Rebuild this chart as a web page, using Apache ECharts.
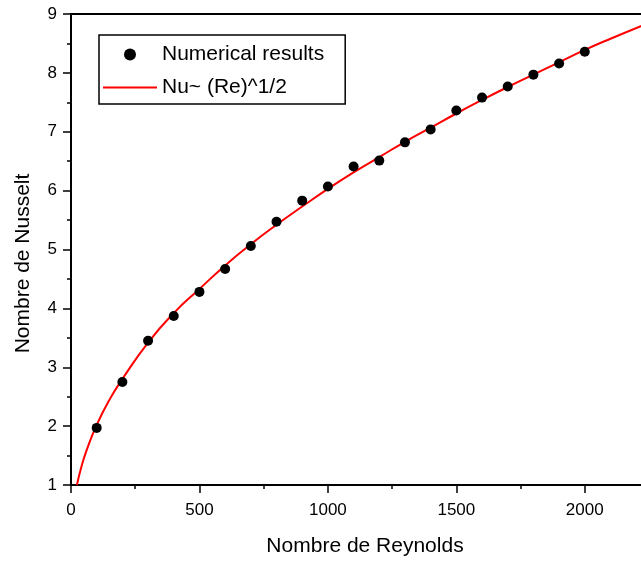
<!DOCTYPE html>
<html><head><meta charset="utf-8">
<script src="https://cdn.jsdelivr.net/npm/echarts@6/dist/echarts.min.js"></script>
<style>html,body{margin:0;padding:0;background:#fff}#c{width:641px;height:563px}</style>
</head><body><div id="c"></div>
<script>
// Numerical results (Reynolds number, Nusselt number)
const reNumerical = [100,200,300,400,500,600,700,800,900,1000,1100,1200,1300,1400,1500,1600,1700,1800,1900,2000];
const nuNumerical = [1.97,2.75,3.45,3.87,4.28,4.67,5.06,5.47,5.83,6.07,6.41,6.51,6.82,7.04,7.36,7.58,7.77,7.97,8.16,8.36];
// Fitted curve Nu ~ (Re)^1/2
const reFit = [23,40,60,100,150,200,300,400,500,600,700,800,900,1000,1100,1200,1300,1400,1500,1600,1700,1800,1900,2000,2100,2250];
const nuFit = [1.00,1.30,1.58,2.02,2.45,2.80,3.42,3.92,4.33,4.73,5.09,5.42,5.73,6.03,6.31,6.57,6.83,7.07,7.31,7.54,7.76,7.97,8.18,8.39,8.58,8.85];
const xTicks = [0,500,1000,1500,2000];
const yTicks = [1,2,3,4,5,6,7,8,9];
const seriesNames = ['Numerical results','Nu~ (Re)^1/2'];

const font = 'Liberation Sans, Arial, sans-serif';
const chart = echarts.init(document.getElementById('c'), null, {renderer:'canvas'});
chart.setOption({
  animation:false,
  backgroundColor:'#fff',
  grid:{left:71, top:14, right:-8, bottom:78, outerBoundsMode:'none', containLabel:false,
        show:true, borderColor:'#000', borderWidth:2, backgroundColor:'transparent'},
  legend:{
    orient:'vertical', left:99, top:35,
    padding:[9,21,6,4], itemGap:12,
    borderColor:'#000', borderWidth:1.5,
    itemWidth:54, itemHeight:12,
    symbolKeepAspect:true,
    textStyle:{fontFamily:font, fontSize:21, color:'#000'},
    data:[{name:seriesNames[0], icon:'circle', itemStyle:{color:'#000', opacity:1}},
          {name:seriesNames[1], icon:'path://M0,0H54V2.2H0Z', itemStyle:{color:'#ff0000'}}]
  },
  xAxis:{
    type:'value', min:0, max:2250, interval:500,
    name:'Nombre de Reynolds', nameLocation:'middle', nameGap:51,
    nameTextStyle:{fontFamily:font, fontSize:21, color:'#000', padding:[0,0,0,10]},
    axisLine:{lineStyle:{color:'#000', width:2}},
    axisTick:{length:8, lineStyle:{color:'#000', width:1.5}},
    minorTick:{show:true, splitNumber:2, length:4, lineStyle:{color:'#000', width:1.5}},
    splitLine:{show:false},
    axisLabel:{fontFamily:font, fontSize:17, color:'#000', margin:17,
      formatter:v => xTicks.indexOf(v) >= 0 ? String(v) : ''}
  },
  yAxis:{
    type:'value', min:1, max:9, interval:1,
    name:'Nombre de Nusselt', nameLocation:'middle', nameGap:37, nameRotate:90,
    nameTextStyle:{fontFamily:font, fontSize:21, color:'#000', padding:[0,28,0,0]},
    axisLine:{lineStyle:{color:'#000', width:2}},
    axisTick:{length:8, lineStyle:{color:'#000', width:1.5}},
    minorTick:{show:true, splitNumber:2, length:4, lineStyle:{color:'#000', width:1.5}},
    splitLine:{show:false},
    axisLabel:{fontFamily:font, fontSize:17, color:'#000', margin:14,
      formatter:v => yTicks.indexOf(v) >= 0 ? String(v) : ''}
  },
  series:[
    {name:seriesNames[0], type:'scatter', symbol:'circle', symbolSize:10,
     itemStyle:{color:'#000', opacity:1}, z:3,
     data:reNumerical.map((r,i)=>[r,nuNumerical[i]])},
    {name:seriesNames[1], type:'line', smooth:true, showSymbol:false, symbol:'none',
     lineStyle:{color:'#ff0000', width:2}, itemStyle:{color:'#ff0000'}, z:2,
     data:reFit.map((r,i)=>[r,nuFit[i]])}
  ]
});
</script></body></html>
